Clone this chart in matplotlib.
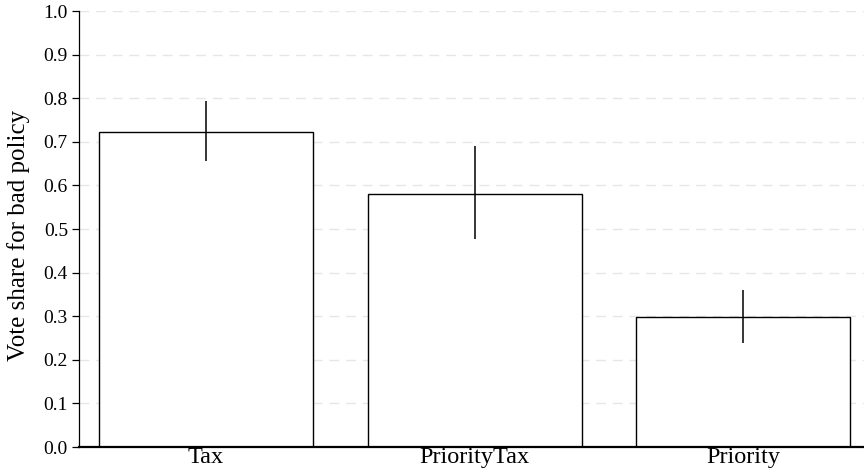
import matplotlib
matplotlib.use("Agg")
import matplotlib.pyplot as plt
import numpy as np

categories = ["Tax", "PriorityTax", "Priority"]
vote_share = [0.723, 0.581, 0.298]
ci_low = [0.657, 0.476, 0.239]
ci_high = [0.794, 0.690, 0.360]
y_ticks = [0.0, 0.1, 0.2, 0.3, 0.4, 0.5, 0.6, 0.7, 0.8, 0.9, 1.0]

plt.rcParams["font.family"] = ["Liberation Serif", "DejaVu Serif"]

fig = plt.figure(figsize=(8.64, 4.76), dpi=100)
ax = fig.add_axes([79 / 864, 29 / 476, 1 - 79 / 864, (447 - 11) / 476])

x = np.arange(len(categories))
ax.bar(x, vote_share, width=0.797, color="white", edgecolor="black",
       linewidth=1.0, zorder=2)
ax.vlines(x, ci_low, ci_high, color="black", linewidth=1.1, zorder=3)

ax.set_ylim(0, 1.0)
ax.set_xlim(-0.473, 2.45)
ax.set_yticks(y_ticks)
ax.set_yticklabels([f"{v:.1f}" for v in y_ticks], fontsize=14)
ax.set_xticks(x)
ax.set_xticklabels(categories, fontsize=17.5)
ax.tick_params(axis="x", length=0, pad=0)
ax.tick_params(axis="y", length=5, width=0.9, pad=3)
ax.set_ylabel("Vote share for bad policy", fontsize=18)
ax.yaxis.set_label_coords(-0.063, 0.485)

ax.yaxis.grid(True, linestyle=(0, (7, 5)), color="#e6e6e6", linewidth=1.0, zorder=0)
ax.set_axisbelow(True)

for side in ["top", "right"]:
    ax.spines[side].set_visible(False)
ax.spines["left"].set_linewidth(0.9)
ax.spines["bottom"].set_linewidth(1.6)

fig.savefig("out.png", dpi=100)
